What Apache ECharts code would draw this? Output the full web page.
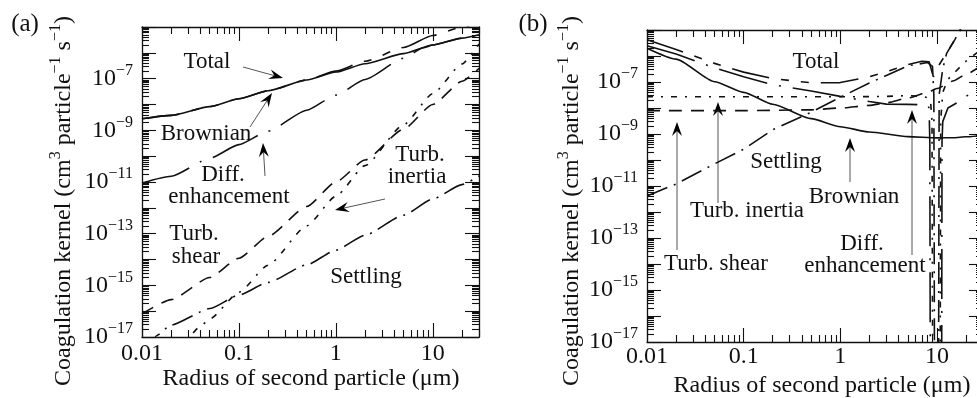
<!DOCTYPE html>
<html>
<head>
<meta charset="utf-8">
<script src="https://cdn.jsdelivr.net/npm/echarts@6.0.0/dist/echarts.min.js"></script>
<style>html,body{margin:0;padding:0;background:#fff}#chart{width:977px;height:398px}</style>
</head>
<body>
<div id="chart"></div>
<script>
var dom = document.getElementById('chart');
var chart = echarts.init(dom);

var serif = '"Liberation Serif", "DejaVu Serif", serif';
var ink = '#111';

// axis ranges and tick values
var xMin = 0.01, xMax = 30, yMin = 1e-17, yMax = 1e-5;
var xMajor = [0.01, 0.1, 1, 10];
var xTickLabels = ['0.01', '0.1', '1', '10'];
var xMinor = [0.02, 0.03, 0.04, 0.05, 0.06, 0.07, 0.08, 0.09,
  0.2, 0.3, 0.4, 0.5, 0.6, 0.7, 0.8, 0.9, 2, 3, 4, 5, 6, 7, 8, 9, 20, 30];
var yMajor = [1e-17, 1e-16, 1e-15, 1e-14, 1e-13, 1e-12, 1e-11, 1e-10, 1e-9, 1e-8, 1e-7, 1e-6, 1e-5];
var yLabelled = [1e-17, 1e-15, 1e-13, 1e-11, 1e-9, 1e-7];
var yMinor = [];
yMajor.forEach(function (d) {
  if (d < yMax) for (var k = 2; k <= 9; k++) yMinor.push(k * d);
});

// panel (a): kernels vs radius of second particle (um)
var aX = [0.01, 0.02, 0.05, 0.1, 0.2, 0.5, 1, 2, 5, 10, 20, 30];
var aBrownian = [2.8e-9, 3.8e-9, 8.3e-9, 1.66e-8, 3.4e-8, 8.9e-8, 1.8e-7, 3.8e-7, 9.3e-7, 2.0e-6, 3.7e-6, 5.0e-6];
var aTotal = [2.8e-9, 3.8e-9, 8.3e-9, 1.66e-8, 3.4e-8, 8.9e-8, 1.95e-7, 4.7e-7, 1.6e-6, 4.7e-6, 9.8e-6, 1.6e-5];
var aShear = [7.9e-17, 2.8e-16, 2.0e-15, 1.12e-14, 7.9e-14, 1.12e-12, 1.0e-11, 7.1e-11, 1.12e-9, 1.0e-8, 7.9e-8, 2.5e-7];
var aDiffX = [0.01, 0.02, 0.05, 0.1, 0.2, 0.5, 1, 2, 5, 8, 10, 20, 30];
var aDiff = [9.1e-12, 1.66e-11, 8.3e-11, 2.8e-10, 9.3e-10, 6.0e-9, 2.3e-8, 9.3e-8, 6.2e-7, 1.58e-6, 2.0e-6, 3.7e-6, 5.0e-6];
var aInertiaX = [0.025, 0.03, 0.04, 0.05, 0.1, 0.2, 0.5, 1, 2, 5, 10, 20, 30];
var aInertia = [2.5e-18, 1.0e-17, 2.6e-17, 5.0e-17, 5.4e-16, 6.0e-15, 2.0e-13, 2.8e-12, 4.3e-11, 1.66e-9, 2.6e-8, 3.7e-7, 2.2e-6];
var aSettleX = [0.012, 0.014, 0.02, 0.05, 0.1, 0.2, 0.5, 1, 2, 5, 10, 20, 30];
var aSettle = [2.5e-18, 1.1e-17, 2.9e-17, 1.26e-16, 4.2e-16, 1.3e-15, 6.2e-15, 2.3e-14, 8.7e-14, 5.2e-13, 2.2e-12, 7.9e-12, 1.7e-11];

// panel (b)
var bBrownX = [0.01, 0.02, 0.05, 0.1, 0.2, 0.5, 1, 2, 5, 10, 15, 20, 30];
var bBrownian = [2.0e-6, 7.6e-7, 1.02e-7, 4.0e-8, 1.4e-8, 3.9e-9, 1.9e-9, 1.2e-9, 7.9e-10, 7.1e-10, 7.2e-10, 7.8e-10, 8.9e-10];
var bTotalX = [0.01, 0.02, 0.05, 0.1, 0.2, 0.5, 1, 2, 3, 5, 7, 8.3, 9.2, 10.3, 12.6, 15.3, 18, 30];
var bTotal = [4.2e-6, 1.78e-6, 5.2e-7, 2.4e-7, 1.35e-7, 9.3e-8, 9.5e-8, 1.58e-7, 2.5e-7, 4.7e-7, 6.3e-7, 6.0e-7, 1.58e-7, 4.0e-7, 1.29e-6, 4.2e-6, 1.26e-5, 1.6e-4];
var bDiffX = [0.01, 0.02, 0.05, 0.1, 0.2, 0.5, 1, 2, 3, 5, 8, 8.3, 8.45, 8.55, 11.2, 11.3, 11.5, 13, 17, 25, 30];
var bDiff = [2.5e-6, 1.2e-6, 3.5e-7, 1.58e-7, 7.9e-8, 4.5e-8, 2.8e-8, 1.78e-8, 1.41e-8, 1.38e-8, 1.32e-8, 1.0e-8, 5e-10, 1e-19, 1e-19, 5e-10, 3e-9, 1e-8, 1.78e-8, 5e-8, 7.1e-8];
var bInertiaX = [0.01, 0.1, 1, 2, 3, 5, 7, 8, 8.6, 8.9, 9.05, 10.8, 10.95, 11.5, 13, 17, 20, 30];
var bInertia = [2.7e-8, 2.7e-8, 2.7e-8, 2.75e-8, 2.8e-8, 3.0e-8, 2.8e-8, 2.5e-8, 1.78e-8, 3.2e-9, 1e-19, 1e-19, 3.2e-9, 4.0e-8, 1.26e-7, 3.5e-7, 6.3e-7, 2.0e-6];
var bShearX = [0.01, 0.1, 0.5, 1, 2, 3, 5, 8, 10, 15, 20, 30];
var bShear = [7.9e-9, 7.9e-9, 8.5e-9, 1.0e-8, 1.26e-8, 1.58e-8, 2.4e-8, 4.0e-8, 5.6e-8, 1.12e-7, 2.0e-7, 4.7e-7];
var bSettleX = [0.01, 0.02, 0.05, 0.1, 0.2, 0.5, 1, 2, 5, 8, 9, 9.3, 9.45, 10.4, 10.55, 11.5, 12.6, 15.3, 18, 30];
var bSettle = [4.1e-12, 1.2e-11, 7.1e-11, 2.6e-10, 1.45e-9, 6.9e-9, 2.6e-8, 9.1e-8, 4.2e-7, 5.6e-7, 4.0e-7, 3.2e-8, 1e-19, 1e-19, 3.2e-8, 3.2e-7, 1.26e-6, 4.2e-6, 1.26e-5, 3.2e-4];

// dash patterns
var dashTotal = [38, 12, 8, 12, 8, 12];
var dashDiff = [50, 12, 2, 12];
var dashShear = [13, 9];
var dashInertia = [6, 8, 2, 8];
var dashSettle = [22, 7, 2, 7];

function xLabel(v) {
  for (var i = 0; i < xMajor.length; i++) {
    if (Math.abs(Math.log10(v / xMajor[i])) < 1e-6) return xTickLabels[i];
  }
  return '';
}
function yLabel(v) {
  var e = Math.round(Math.log10(v));
  return '{b|10}{s|\u2212' + (-e) + '}';
}

function xAxes(grid, margin) {
  function ax(pos, major) {
    return {
      type: 'log', logBase: 10, gridIndex: grid, position: pos, min: xMin, max: xMax,
      splitLine: {show: false},
      axisLine: {show: major, lineStyle: {color: ink, width: 1.3}},
      axisTick: {show: true, inside: true, length: major ? 14 : 7,
        customValues: major ? xMajor : xMinor, lineStyle: {color: ink, width: 1.1}},
      axisLabel: {show: major && pos === 'bottom', customValues: xMajor, margin: margin,
        fontFamily: serif, fontSize: 24, color: ink, formatter: xLabel}
    };
  }
  return [ax('bottom', true), ax('top', true), ax('bottom', false), ax('top', false)];
}
function yAxes(grid) {
  function ax(pos, major) {
    return {
      type: 'log', logBase: 10, gridIndex: grid, position: pos, min: yMin, max: yMax,
      splitLine: {show: false},
      axisLine: {show: major, lineStyle: {color: ink, width: 1.3}},
      axisTick: {show: true, inside: true, length: major ? 14 : 7,
        customValues: major ? yMajor : yMinor, lineStyle: {color: ink, width: 1.1}},
      axisLabel: {show: major && pos === 'left', customValues: yLabelled, margin: 9,
        formatter: yLabel, color: ink,
        rich: {
          b: {fontFamily: serif, fontSize: 24, lineHeight: 32, color: ink},
          s: {fontFamily: serif, fontSize: 16, lineHeight: 16, verticalAlign: 'top', color: ink}
        }}
    };
  }
  return [ax('left', true), ax('right', true), ax('left', false), ax('right', false)];
}

function line(xs, ys, dash, axis, smooth) {
  return {
    type: 'line', xAxisIndex: axis, yAxisIndex: axis, symbol: 'none', silent: true,
    smooth: smooth ? 0.2 : false, smoothMonotone: 'x',
    data: xs.map(function (x, i) { return [x, ys[i]]; }),
    lineStyle: {color: ink, width: 1.6, type: dash, cap: 'butt'}
  };
}

function text(str, x, y, size) {
  return {type: 'text', x: x, y: y, silent: true,
    style: {text: str, fill: ink, font: (size || 23) + 'px ' + serif,
      align: 'center', verticalAlign: 'middle'}};
}
function arrow(x1, y1, x2, y2) {
  var a = Math.atan2(y2 - y1, x2 - x1), ux = Math.cos(a), uy = Math.sin(a);
  var L = 14, W = 5, N = 9;
  var bx = x2 - ux * L, by = y2 - uy * L, nx = x2 - ux * N, ny = y2 - uy * N;
  return [
    {type: 'line', silent: true, shape: {x1: x1, y1: y1, x2: nx, y2: ny}, style: {stroke: '#555', lineWidth: 1}},
    {type: 'polygon', silent: true, shape: {points: [[x2, y2], [bx - uy * W, by + ux * W], [nx, ny], [bx + uy * W, by - ux * W]]},
      style: {fill: '#000'}}
  ];
}
function yTitle(x, y) {
  return {type: 'text', x: x, y: y, rotation: Math.PI / 2, silent: true,
    style: {text: 'Coagulation kernel (cm{s|3} particle{s|\u22121} s{s|\u22121})',
      fill: ink, font: '24px ' + serif, lineHeight: 32, align: 'center', verticalAlign: 'middle',
      rich: {s: {font: '16px ' + serif, lineHeight: 16, verticalAlign: 'top', fill: ink}}}};
}

var graphics = [
  text('(a)', 25, 24, 25), text('(b)', 533, 24, 25),
  yTitle(64, 201), yTitle(572, 201),
  text('Radius of second particle (\u03bcm)', 311, 379, 24),
  text('Radius of second particle (\u03bcm)', 822, 386, 24),
  // panel (a) annotations
  text('Total', 207, 62), text('Brownian', 206, 134),
  text('Diff.', 223, 175), text('enhancement', 229, 197),
  text('Turb.', 420, 155), text('inertia', 417, 177),
  text('Turb.', 194, 234), text('shear', 196, 257),
  text('Settling', 366, 277),
  // panel (b) annotations
  text('Total', 816, 62), text('Settling', 786, 162), text('Brownian', 854, 197),
  text('Turb. inertia', 747, 211), text('Turb. shear', 716, 264),
  text('Diff.', 862, 244), text('enhancement', 865, 266)
];
graphics = graphics.concat(
  arrow(243, 67, 283, 78), arrow(250, 127, 272, 93), arrow(265, 176, 263, 143), arrow(385, 199, 335, 210),
  arrow(677, 250, 677, 122), arrow(718, 203, 718, 102), arrow(850, 182, 850, 138), arrow(912, 255, 912, 110)
);

var option = {
  animation: false,
  backgroundColor: '#fff',
  grid: [
    {left: 142, top: 27, width: 337, height: 310, containLabel: false, outerBoundsMode: 'none'},
    {left: 647, top: 30, width: 336, height: 312, containLabel: false, outerBoundsMode: 'none'}
  ],
  xAxis: xAxes(0, 5).concat(xAxes(1, 3)),
  yAxis: yAxes(0).concat(yAxes(1)),
  series: [
    line(aX, aBrownian, 'solid', 0, true),
    line(aX, aTotal, dashTotal, 0, true),
    line(aDiffX, aDiff, dashDiff, 0, true),
    line(aX, aShear, dashShear, 0, true),
    line(aInertiaX, aInertia, dashInertia, 0, true),
    line(aSettleX, aSettle, dashSettle, 0, true),
    line(bBrownX, bBrownian, 'solid', 4, true),
    line(bTotalX, bTotal, dashTotal, 4, false),
    line(bDiffX, bDiff, dashDiff, 4, false),
    line(bShearX, bShear, dashShear, 4, true),
    line(bInertiaX, bInertia, dashInertia, 4, false),
    line(bSettleX, bSettle, dashSettle, 4, false)
  ],
  graphic: {elements: graphics}
};
chart.setOption(option);
</script>
</body>
</html>
